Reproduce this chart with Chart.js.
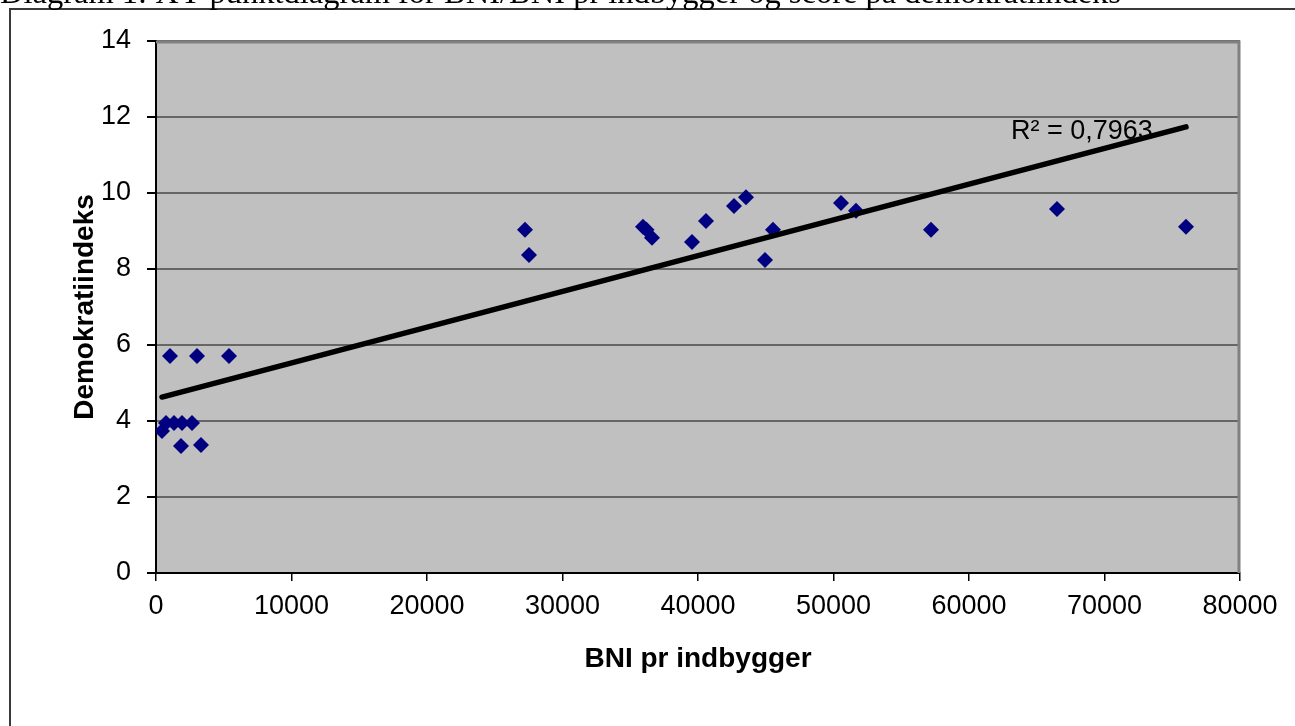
<!DOCTYPE html>
<html>
<head>
<meta charset="utf-8">
<script src="https://cdn.jsdelivr.net/npm/chart.js@4.4.0/dist/chart.umd.min.js"></script>
<style>
  body { margin: 0; background: #fff; }
  #wrap { position: relative; width: 1295px; height: 726px; overflow: hidden; }
  #title {
    position: absolute; left: 0; top: -24px;
    font-family: "Liberation Serif", "Times New Roman", serif;
    font-size: 32.5px; line-height: 32px; white-space: nowrap; color: #000;
  }
  canvas { position: absolute; left: 0; top: 0; }
</style>
</head>
<body>
<div id="wrap">
  <canvas id="canvas_bni" width="1295" height="726"></canvas>
  <div id="title">Diagram 1: XY-punktdiagram for BNI/BNI pr indbygger og score på demokratiindeks</div>
</div>
<script>
// BNI pr indbygger (x) and demokratiindeks (y)
var bniValues = [ 443, 738, 1328, 1919, 2657, 1845, 3321, 1033, 3026, 5387,
		27232, 27528, 35941, 36200, 36605, 39557, 40590, 42657, 43542,
		45535, 44945, 50554, 51661, 57196, 66494, 76015 ];
var demoValues = [ 3.74, 3.95, 3.95, 3.95, 3.95, 3.34, 3.37, 5.71, 5.71, 5.71,
		9.03, 8.37, 9.11, 9.03, 8.82, 8.71, 9.26, 9.66, 9.89,
		9.03, 8.24, 9.74, 9.53, 9.03, 9.58, 9.11 ];

// linear trendline, ends
var trendX = [ 443, 76015 ];
var trendY = [ 4.63, 11.74 ];
var r2Label = "R\u00b2 = 0,7963";
var r2Pos = [ 63100, 11.62 ];

var xTicks = [ 0, 10000, 20000, 30000, 40000, 50000, 60000, 70000, 80000 ];
var yTicks = [ 0, 2, 4, 6, 8, 10, 12, 14 ];

function toPoints(xs, ys) {
	var pts = [];
	for (var i = 0; i < xs.length; i++) {
		pts.push({ x : xs[i], y : ys[i] });
	}
	return pts;
}

// grey plot area, outer frame and the R2 text
var plotFrame = {
	id : "plotFrame",
	beforeDraw : function(chart) {
		var ctx = chart.ctx;
		ctx.save();
		ctx.fillStyle = "#ffffff";
		ctx.fillRect(0, 0, chart.width, chart.height);
		ctx.strokeStyle = "#3a3a3a";
		ctx.lineWidth = 2;
		ctx.beginPath();
		ctx.moveTo(10, chart.height);
		ctx.lineTo(10, 9);
		ctx.lineTo(chart.width, 9);
		ctx.stroke();
		var a = chart.chartArea;
		ctx.fillStyle = "#c0c0c0";
		ctx.fillRect(a.left, a.top, a.right - a.left, a.bottom - a.top);
		ctx.restore();
	},
	beforeDatasetsDraw : function(chart) {
		var ctx = chart.ctx;
		var a = chart.chartArea;
		ctx.save();
		ctx.strokeStyle = "#808080";
		ctx.lineWidth = 3;
		ctx.beginPath();
		ctx.moveTo(a.left, a.top + 1);
		ctx.lineTo(a.right - 1, a.top + 1);
		ctx.lineTo(a.right - 1, a.bottom);
		ctx.stroke();
		ctx.fillStyle = "#000";
		ctx.font = "27px 'Liberation Sans', Arial, sans-serif";
		ctx.textBaseline = "middle";
		ctx.fillText(r2Label, chart.scales.x.getPixelForValue(r2Pos[0]),
				chart.scales.y.getPixelForValue(r2Pos[1]));
		ctx.restore();
	}
};

var bniChart = new Chart(document.getElementById("canvas_bni"), {
	type : "scatter",
	data : {
		datasets : [ {
			type : "line",
			data : toPoints(trendX, trendY),
			borderColor : "#000000",
			borderWidth : 5.5,
			borderCapStyle : "round",
			pointRadius : 0,
			fill : false
		}, {
			data : toPoints(bniValues, demoValues),
			pointStyle : "rectRot",
			pointRadius : 8,
			pointHoverRadius : 8,
			backgroundColor : "#000080",
			borderColor : "#000080",
			borderWidth : 0
		} ]
	},
	options : {
		responsive : false,
		animation : false,
		layout : {
			padding : { left : 60, top : 41, right : 55, bottom : 0 }
		},
		plugins : {
			legend : { display : false },
			tooltip : { enabled : false }
		},
		scales : {
			x : {
				type : "linear",
				min : 0,
				max : 80000,
				afterBuildTicks : function(axis) {
					axis.ticks = xTicks.map(function(v) { return { value : v }; });
				},
				afterFit : function(axis) { axis.height = 153; },
				grid : {
					drawOnChartArea : false,
					tickColor : "#000",
					tickLength : 8,
					lineWidth : 1.5
				},
				border : { color : "#000", width : 2 },
				ticks : {
					color : "#000",
					padding : 9,
					maxRotation : 0,
					font : { family : "'Liberation Sans', Arial, sans-serif", size : 27 },
					callback : function(v) { return String(v); }
				},
				title : {
					display : true,
					text : "BNI pr indbygger",
					color : "#000",
					padding : { top : 0, bottom : 50 },
					font : { family : "'Liberation Sans', Arial, sans-serif", size : 28, weight : "bold" }
				}
			},
			y : {
				min : 0,
				max : 14,
				afterBuildTicks : function(axis) {
					axis.ticks = yTicks.map(function(v) { return { value : v }; });
				},
				afterFit : function(axis) { axis.width = 96; },
				grid : {
					color : "#666666",
					lineWidth : 2,
					tickColor : "#000",
					tickLength : 9
				},
				border : { color : "#000", width : 2 },
				ticks : {
					color : "#000",
					padding : 16,
					font : { family : "'Liberation Sans', Arial, sans-serif", size : 27 }
				},
				title : {
					display : true,
					text : "Demokratiindeks",
					color : "#000",
					padding : { top : 8, bottom : 0 },
					font : { family : "'Liberation Sans', Arial, sans-serif", size : 28, weight : "bold" }
				}
			}
		}
	},
	plugins : [ plotFrame ]
});
</script>
</body>
</html>
